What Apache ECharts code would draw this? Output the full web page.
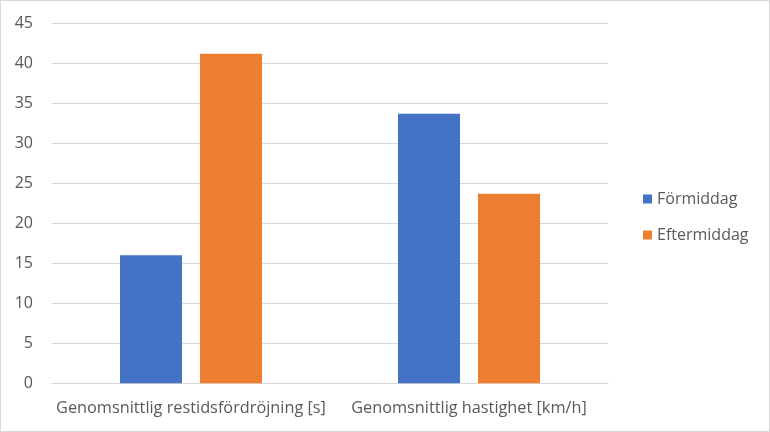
<!DOCTYPE html>
<html><head><meta charset="utf-8">
<script src="https://cdn.jsdelivr.net/npm/echarts@6/dist/echarts.min.js"></script>
<style>html,body{margin:0;padding:0;background:#fff}#c{width:770px;height:432px;box-sizing:border-box;border:1px solid #d9d9d9}</style>
</head><body><div id="c"></div>
<script>
const categories = ['Genomsnittlig restidsfördröjning [s]', 'Genomsnittlig hastighet [km/h]'];
const seriesNames = ['Förmiddag', 'Eftermiddag'];
const formiddag = [16.0, 33.7];
const eftermiddag = [41.2, 23.7];
const colors = ['#4472c4', '#ed7d31'];
const font = 'Open Sans';
const chart = echarts.init(document.getElementById('c'));
chart.setOption({
  animation: false,
  color: colors,
  grid: {left: 51, right: 161, top: 22.3, bottom: 47.7},
  legend: {
    orient: 'vertical', left: 637, top: 183, itemWidth: 9, itemHeight: 9, itemGap: 16,
    icon: 'rect', itemStyle: {borderWidth: 0},
    textStyle: {fontFamily: font, fontSize: 16, color: '#595959', lineHeight: 20}
  },
  xAxis: {
    type: 'category', data: categories,
    axisLine: {lineStyle: {color: '#d9d9d9'}}, axisTick: {show: false},
    axisLabel: {fontFamily: font, fontSize: 16.3, color: '#595959', margin: 17, interval: 0}
  },
  yAxis: {
    type: 'value', min: 0, max: 45, interval: 5,
    axisLine: {show: false}, axisTick: {show: false},
    splitLine: {lineStyle: {color: '#d9d9d9', width: 1}},
    axisLabel: {fontFamily: font, fontSize: 16, color: '#595959', margin: 19}
  },
  series: [
    {name: seriesNames[0], type: 'bar', data: formiddag, barWidth: 62, barGap: '29%'},
    {name: seriesNames[1], type: 'bar', data: eftermiddag, barWidth: 62, barGap: '29%'}
  ]
});
</script></body></html>
